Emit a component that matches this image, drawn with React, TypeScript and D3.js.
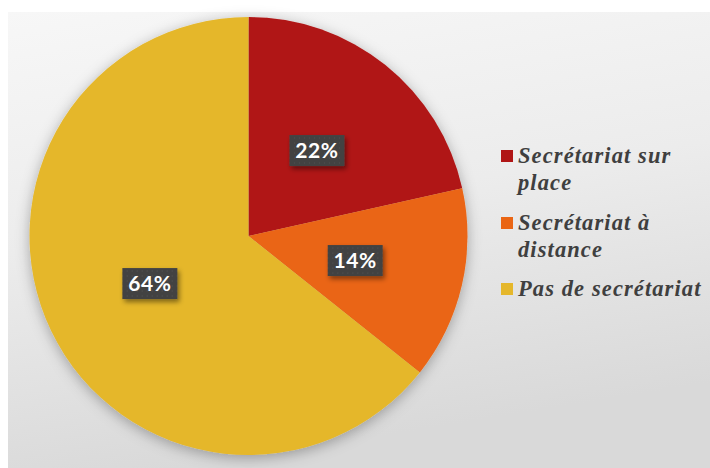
import React from "react";
import * as d3 from "d3";

const categories = ["Secrétariat sur place", "Secrétariat à distance", "Pas de secrétariat"];
const values = [21.5, 14.2, 64.3];
const labels = ["22%", "14%", "64%"];
const colors = ["#b01515", "#ea6513", "#e5b72b"];
const legendLines = [["Secrétariat sur", "place"], ["Secrétariat à", "distance"], ["Pas de secrétariat"]];

const W = 710;
const H = 468;

export default function App() {
  const cx = 248.5;
  const cy = 236;
  const R = 219;
  const pie = d3.pie<number>().sort(null).value((d) => d)(values);
  const arc = d3.arc<d3.PieArcDatum<number>>().innerRadius(0).outerRadius(R);

  const legendX = 501;
  const legendTops = [150, 217, 283];
  const lineH = 27;

  return (
    <svg
      width={W}
      height={H}
      style={{ position: "absolute", left: 0, top: 0 }}
    >
      <defs>
        <linearGradient id="bg" x1="0" y1="0" x2="0.25" y2="1">
          <stop offset="0" stopColor="#f7f7f7" />
          <stop offset="0.5" stopColor="#ececec" />
          <stop offset="1" stopColor="#d9d9d9" />
        </linearGradient>
        <filter id="pieShadow" x="-20%" y="-20%" width="140%" height="140%">
          <feDropShadow dx="0" dy="3" stdDeviation="7" floodColor="#000" floodOpacity="0.3" />
        </filter>
        <filter id="lblShadow" x="-30%" y="-30%" width="160%" height="160%">
          <feDropShadow dx="2" dy="3" stdDeviation="2.5" floodColor="#000" floodOpacity="0.45" />
        </filter>
        <pattern id="dots" width="5" height="5" patternUnits="userSpaceOnUse">
          <rect width="5" height="5" fill="#434343" />
          <rect x="2" y="2" width="1" height="1" fill="#4f4f4f" />
        </pattern>
      </defs>
      <rect x={0} y={0} width={W} height={H} fill="#ffffff" />
      <rect x={8} y={12} width={W - 8} height={H - 12} fill="url(#bg)" />
      <g transform={`translate(${cx},${cy})`}>
        <g filter="url(#pieShadow)">
          {pie.map((p, i) => (
            <path key={i} d={arc(p) || ""} fill={colors[i]} />
          ))}
        </g>
        {pie.map((p, i) => {
          const [x, y] = arc.centroid(p);
          const w = 55;
          const h = 31;
          return (
            <g key={"l" + i} transform={`translate(${x},${y})`}>
              <rect x={-w / 2} y={-h / 2} width={w} height={h} fill="url(#dots)" filter="url(#lblShadow)" />
              <text
                x={0}
                y={7.5}
                textAnchor="middle"
                fill="#ffffff"
                fontFamily="Lato, 'DejaVu Sans', sans-serif"
                fontWeight={700}
                fontSize={21}
                letterSpacing={0.6}
              >
                {labels[i]}
              </text>
            </g>
          );
        })}
      </g>
      {categories.map((c, i) => (
        <g key={"lg" + i}>
          <rect x={legendX} y={legendTops[i]} width={12} height={12} fill={colors[i]} />
          <text
            x={518}
            y={legendTops[i] + 13}
            fill="#3f3f3f"
            fontFamily="'Liberation Serif', 'Times New Roman', serif"
            fontStyle="italic"
            fontWeight={700}
            fontSize={22.5}
            letterSpacing={1.1}
          >
            {legendLines[i].map((ln, j) => (
              <tspan key={j} x={518} dy={j === 0 ? 0 : lineH}>
                {ln}
              </tspan>
            ))}
          </text>
        </g>
      ))}
    </svg>
  );
}
